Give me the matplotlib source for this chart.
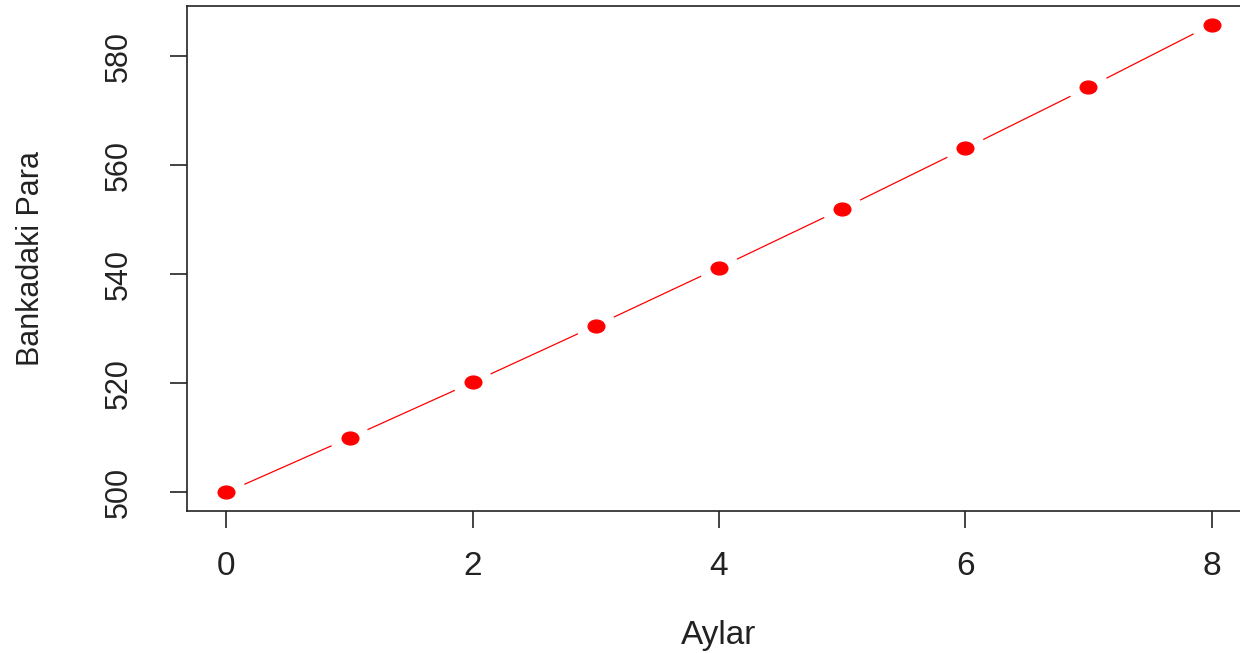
import numpy as np
import matplotlib
matplotlib.use("Agg")
import matplotlib.pyplot as plt
from matplotlib.path import Path
from matplotlib.transforms import Affine2D

plt.rcParams['font.family'] = ['Liberation Sans', 'DejaVu Sans']

# months and money in bank
aylar = [0, 1, 2, 3, 4, 5, 6, 7, 8]
para = [500.0, 510.0, 520.2, 530.6, 541.2, 552.0, 563.1, 574.3, 585.8]
xticks = [0, 2, 4, 6, 8]
yticks = [500, 520, 540, 560, 580]

W, H = 1240, 653
fig = plt.figure(figsize=(W / 100, H / 100), dpi=100)
# R style plot region; right edge falls outside the image
ax = fig.add_axes([187 / W, 1 - 511 / H, (1251 - 187) / W, (511 - 6) / H])

x = np.array(aylar, dtype=float)
y = np.array(para)
# type="b": line segments with gaps around the points
gap = 0.15
for i in range(len(x) - 1):
    x0 = x[i] + gap * (x[i + 1] - x[i])
    x1 = x[i + 1] - gap * (x[i + 1] - x[i])
    y0 = y[i] + gap * (y[i + 1] - y[i])
    y1 = y[i + 1] - gap * (y[i + 1] - y[i])
    ax.plot([x0, x1], [y0, y1], color='red', lw=0.9)

# the source image is stretched sideways, so the dots are a bit oval
circ = Path.unit_circle()
oval = Path(Affine2D().scale(1.3, 1.0).transform(circ.vertices), circ.codes)
ax.plot(x, y, linestyle='none', marker=oval, color='red', ms=12, mec='red')

xr = x.max() - x.min()
yr = y.max() - y.min()
ax.set_xlim(x.min() - 0.04 * xr, x.max() + 0.04 * xr)
ax.set_ylim(y.min() - 0.04 * yr, y.max() + 0.04 * yr)

ink = '#222222'
ax.set_xticks(xticks)
ax.set_yticks(yticks)
ax.set_yticklabels([str(v) for v in yticks], rotation=90, va='center')
ax.tick_params(axis='both', direction='out', length=12, width=1.2,
               color=ink, labelcolor=ink)
ax.tick_params(axis='x', pad=17, labelsize=24)
ax.tick_params(axis='y', pad=26, labelsize=22)
for s in ax.spines.values():
    s.set_linewidth(1.2)
    s.set_color(ink)

ax.set_xlabel('Aylar', fontsize=24, color=ink, labelpad=27)
ax.set_ylabel('Bankadaki Para', fontsize=22, color=ink, labelpad=42)

fig.savefig('out.png', dpi=100)
